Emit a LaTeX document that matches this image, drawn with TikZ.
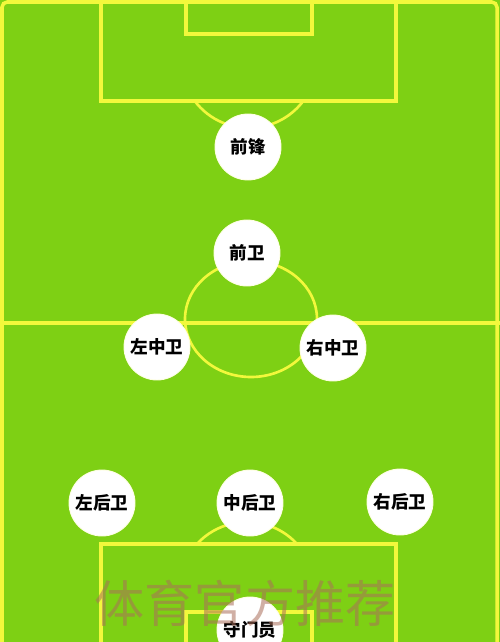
\documentclass[tikz,border=0pt]{standalone}
\usepackage{fontspec}
\newfontfamily\cjk{Noto Sans CJK SC}
\usepackage{tikz}
\usetikzlibrary{calc,positioning}
\definecolor{pitch}{RGB}{126,208,20}
\definecolor{chalk}{RGB}{242,248,60}
\definecolor{stamp}{RGB}{170,110,90}
\tikzstyle{line}  =[draw=chalk, line width=2pt]
\tikzstyle{player}=[circle, fill=white, draw=white!85!chalk,
                    line width=0.5pt, minimum size=1.32cm,
                    inner sep=0pt, font=\cjk\bfseries\fontsize{10}{11}\selectfont]

\begin{document}
\begin{tikzpicture}[x=0.02cm, y=0.02cm, every node/.style={player}]
        \fill[pitch] (0,0) rectangle (500,-642);
        \useasboundingbox (0,0) rectangle (500,-642);

        % outer lines and halfway line
        \draw[line, rounded corners=3pt] (2,-660) -- (2,-2) -- (497,-2) -- (497,-660);
        \draw[line] (0,-323) -- (500,-323);
        \draw[line, line width=1.5pt] (251,-319) ellipse [x radius=66, y radius=58];

        % top end
        \draw[line] (101,0) -- (101,-101) -- (396,-101) -- (396,0);
        \draw[line] (186,0) -- (186,-34) -- (312,-34) -- (312,0);
        \draw[line, line width=1.5pt] (249,-60) ++(-143:68) arc[start angle=-143, end angle=-37, radius=68];

        % bottom end
        \draw[line] (101,-660) -- (101,-544) -- (396,-544) -- (396,-660);
        \draw[line] (186,-660) -- (186,-612) -- (312,-612) -- (312,-660);
        \draw[line, line width=1.5pt] (247,-590) ++(43:68) arc[start angle=43, end angle=137, radius=68];

        \foreach \n/\x/\y/\t in {fw/248/147/前锋, mf/247/253/前卫,
                lcm/157/347/左中卫, rcm/333/348/右中卫,
                lb/102/503/左后卫, cb/250/503/中后卫, rb/400/502/右后卫,
                gk/250/630/守门员}
            \node (\n) at (\x,-\y) {\t};

        \node[draw=none, fill=none, text=stamp, text opacity=0.55,
              font=\cjk\fontsize{28.5}{30}\selectfont] (mark) at (245,-603) {体育官方推荐};
    \end{tikzpicture}
\end{document}
